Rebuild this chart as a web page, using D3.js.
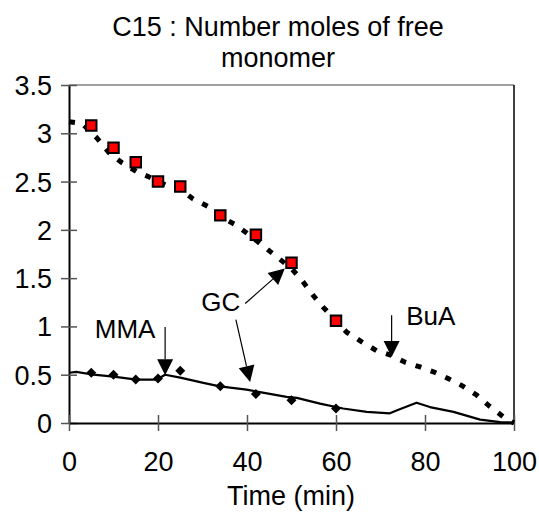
<!DOCTYPE html>
<html>
<head>
<meta charset="utf-8">
<script src="https://cdn.jsdelivr.net/npm/d3@7"></script>
<style>
  body { margin: 0; background: #fff; }
  text { font-family: "Liberation Sans", Arial, sans-serif; fill: #000; }
</style>
</head>
<body>
<svg id="chart" width="539" height="515"></svg>
<script>
// sampled points (markers)
const sampleTimes = [5, 10, 15, 20, 25, 34, 42, 50, 60];
const buaValues = [3.08, 2.85, 2.70, 2.50, 2.45, 2.15, 1.95, 1.66, 1.06];
const mmaValues = [0.52, 0.50, 0.45, 0.46, 0.54, 0.38, 0.30, 0.235, 0.15];

// GC traces
const buaCurveTimes = [0, 3, 6.3, 9, 11.75, 15.3, 17.9, 20, 22, 25, 27.9, 31.3, 34, 37.5, 41, 44, 46.7, 50, 52.3, 54.9, 57.1, 60, 62.4, 65.8, 69.1, 72.5, 75.5, 78.9, 81.9, 85.2, 88.2, 91.6, 94.6, 98, 100];
const buaCurveValues = [3.12, 3.10, 2.95, 2.80, 2.70, 2.60, 2.55, 2.50, 2.46, 2.42, 2.32, 2.24, 2.14, 2.05, 1.93, 1.82, 1.72, 1.60, 1.48, 1.32, 1.20, 1.06, 0.94, 0.84, 0.75, 0.70, 0.63, 0.58, 0.53, 0.46, 0.39, 0.29, 0.17, 0.05, 0.0];
const mmaCurveTimes = [0, 1.7, 5.5, 10, 15.2, 19.7, 21.6, 25, 30.2, 33.9, 39.9, 42.9, 48.9, 51.2, 56.4, 61.6, 66.9, 72.1, 73.6, 78.1, 81.1, 86.4, 92.4, 96.9, 100];
const mmaCurveValues = [0.52, 0.53, 0.50, 0.48, 0.45, 0.45, 0.50, 0.47, 0.415, 0.38, 0.345, 0.32, 0.27, 0.26, 0.20, 0.15, 0.115, 0.10, 0.13, 0.21, 0.165, 0.115, 0.035, 0.01, 0.005];

const xTicks = [0, 20, 40, 60, 80, 100];
const yTicks = [0, 0.5, 1, 1.5, 2, 2.5, 3, 3.5];

const titleLines = ["C15 : Number moles of free", "monomer"];
const xTitle = "Time (min)";

// labels with arrows, in data units
const annotations = [
  { label: "MMA", t: 12.6, v: 0.885, arrows: [[21.6, 0.995, 21.6, 0.495]] },
  { label: "GC", t: 34.1, v: 1.157, arrows: [[39.6, 1.237, 48.5, 1.60], [37.5, 1.07, 40.7, 0.425]] },
  { label: "BuA", t: 81.3, v: 1.01, arrows: [[72.5, 1.116, 72.5, 0.684]] }
];

const margin = { top: 85, right: 25, bottom: 92, left: 69 },
    width = 539 - margin.left - margin.right,
    height = 515 - margin.top - margin.bottom;

const svg = d3.select("#chart");
const g = svg.append("g").attr("transform", `translate(${margin.left},${margin.top})`);

const x = d3.scaleLinear().domain([0, 100]).range([0, width]);
const y = d3.scaleLinear().domain([0, 3.5]).range([height, 0]);

// title
svg.append("text")
    .attr("x", 278).attr("y", 36)
    .attr("text-anchor", "middle").style("font-size", "27px")
    .text(titleLines[0]);
svg.append("text")
    .attr("x", 278).attr("y", 67)
    .attr("text-anchor", "middle").style("font-size", "27px")
    .text(titleLines[1]);

// frame: top gray, right black
g.append("line").attr("x1", 0).attr("x2", width).attr("y1", 0).attr("y2", 0)
    .attr("stroke", "#808080").attr("stroke-width", 1.5);
g.append("line").attr("x1", width).attr("x2", width).attr("y1", 0).attr("y2", height)
    .attr("stroke", "#000").attr("stroke-width", 1.5);

// axes
const yAxis = g.append("g").call(d3.axisLeft(y).tickValues(yTicks).tickFormat(d3.format("")).tickSizeOuter(0));
const xAxis = g.append("g").attr("transform", `translate(0,${height})`)
    .call(d3.axisBottom(x).tickValues(xTicks).tickSizeOuter(0));

[yAxis, xAxis].forEach(a => {
  a.select(".domain").attr("stroke", "#000").attr("stroke-width", 2);
  a.selectAll(".tick line").attr("stroke", "#555").attr("stroke-width", 1.5);
  a.selectAll(".tick text").style("font-size", "27px").attr("font-family", null).attr("fill", "#000");
  a.attr("font-family", null).attr("font-size", null);
});
yAxis.selectAll(".tick line").attr("x1", -8).attr("x2", 8);
yAxis.selectAll(".tick text").attr("x", -17).attr("dy", "0.35em");
xAxis.selectAll(".tick line").attr("y1", -8).attr("y2", 8);
xAxis.selectAll(".tick text").attr("y", 48).attr("dy", 0);

svg.append("text")
    .attr("x", 291).attr("y", 505)
    .attr("text-anchor", "middle").style("font-size", "27px")
    .text(xTitle);

// lines
const line = d3.line().x(d => x(d[0])).y(d => y(d[1]));

g.append("path")
    .datum(mmaCurveTimes.map((t, i) => [t, mmaCurveValues[i]]))
    .attr("d", line)
    .attr("fill", "none").attr("stroke", "#000").attr("stroke-width", 2.2)
    .attr("stroke-linejoin", "round");

g.append("path")
    .datum(buaCurveTimes.map((t, i) => [t, buaCurveValues[i]]))
    .attr("d", line)
    .attr("fill", "none").attr("stroke", "#000").attr("stroke-width", 5)
    .attr("stroke-dasharray", "6,10");

// markers
g.selectAll(".mma")
    .data(sampleTimes.map((t, i) => [t, mmaValues[i]]))
    .enter().append("path")
    .attr("class", "mma")
    .attr("d", d3.symbol().type(d3.symbolSquare).size(50))
    .attr("transform", d => `translate(${x(d[0])},${y(d[1])}) rotate(45)`)
    .attr("fill", "#000");

g.selectAll(".bua")
    .data(sampleTimes.map((t, i) => [t, buaValues[i]]))
    .enter().append("path")
    .attr("class", "bua")
    .attr("d", d3.symbol().type(d3.symbolSquare).size(110))
    .attr("transform", d => `translate(${x(d[0])},${y(d[1])})`)
    .attr("fill", "#ff0000").attr("stroke", "#000").attr("stroke-width", 2);

// annotations
annotations.forEach(a => {
  g.append("text")
      .attr("x", x(a.t)).attr("y", y(a.v))
      .attr("text-anchor", "middle").style("font-size", "26px")
      .text(a.label);
  a.arrows.forEach(([t0, v0, t1, v1]) => {
    const x0 = x(t0), y0 = y(v0), x1 = x(t1), y1 = y(v1);
    const len = Math.hypot(x1 - x0, y1 - y0);
    const ux = (x1 - x0) / len, uy = (y1 - y0) / len;
    const head = 16, half = 8;
    const bx = x1 - ux * head, by = y1 - uy * head;
    g.append("line")
        .attr("x1", x0).attr("y1", y0).attr("x2", bx).attr("y2", by)
        .attr("stroke", "#000").attr("stroke-width", 1.2);
    g.append("path")
        .attr("d", `M${x1},${y1}L${bx - uy * half},${by + ux * half}L${bx + uy * half},${by - ux * half}Z`)
        .attr("fill", "#000");
  });
});
</script>
</body>
</html>
